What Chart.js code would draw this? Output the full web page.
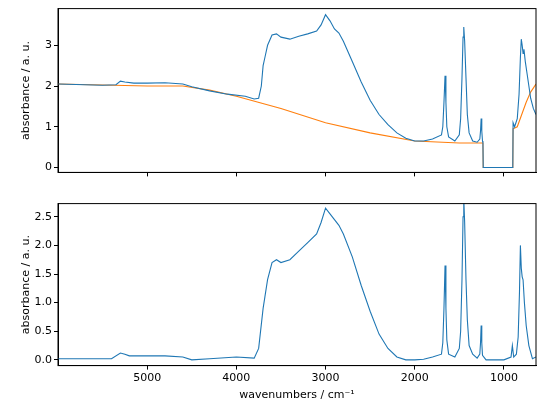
<!DOCTYPE html>
<html><head><meta charset="utf-8">
<script src="https://cdn.jsdelivr.net/npm/chart.js@4/dist/chart.umd.min.js"></script>
<style>
body{margin:0;background:#fff;width:544px;height:418px;position:relative;overflow:hidden}
.c{position:absolute;left:0}
</style></head><body>
<div class="c" style="top:0;width:544px;height:181px"><canvas id="top"></canvas></div>
<div class="c" style="top:195px;width:544px;height:209px"><canvas id="bot"></canvas></div>
<script>
// spectra (wavenumber, absorbance)
const sampleWn = [6000,5500,5350,5300,5250,5150,5000,4800,4600,4500,4300,4100,3900,3800,3750,3720,3700,3680,3650,3600,3550,3500,3400,3300,3200,3100,3050,3000,2950,2900,2850,2800,2700,2600,2500,2400,2300,2200,2100,2000,1900,1800,1700,1685,1672,1660,1650,1640,1620,1550,1500,1485,1470,1458,1450,1440,1425,1410,1390,1350,1300,1270,1262,1255,1248,1240,1235,1232,900,897,880,850,830,815,805,795,785,775,760,740,720,700,670,640];
const sampleAbs = [2.05,2.02,2.03,2.12,2.1,2.07,2.07,2.08,2.05,1.98,1.88,1.8,1.75,1.68,1.7,2.0,2.5,2.7,3.0,3.25,3.28,3.2,3.15,3.22,3.28,3.35,3.5,3.75,3.6,3.4,3.3,3.1,2.6,2.1,1.65,1.3,1.05,0.85,0.72,0.65,0.65,0.7,0.8,1.0,1.6,2.25,1.6,1.0,0.75,0.65,0.8,1.2,2.2,3.2,3.45,3.1,2.2,1.3,0.85,0.65,0.62,0.7,0.9,1.2,0.9,0.65,0.6,0,0,1.1,1.0,1.2,1.8,2.7,3.15,3.0,2.8,2.9,2.6,2.3,2.0,1.7,1.45,1.3];
const baseWn = [6000,5000,4600,4300,4000,3500,3000,2500,2000,1500,1235,1232,900,897,850,800,750,700,640];
const baseAbs = [2.05,2.0,2.0,1.9,1.75,1.45,1.1,0.85,0.65,0.6,0.6,0,0,0.95,1.0,1.3,1.6,1.85,2.05];
const corrWn = [6000,5400,5300,5250,5200,4800,4600,4500,4300,4000,3800,3750,3700,3680,3650,3600,3550,3500,3400,3300,3200,3100,3050,3000,2950,2900,2850,2800,2700,2600,2500,2400,2300,2200,2100,2000,1900,1800,1700,1685,1672,1660,1650,1640,1620,1550,1500,1485,1470,1458,1450,1440,1425,1410,1390,1350,1300,1270,1262,1255,1248,1240,1200,1000,920,905,890,860,840,825,815,805,795,785,770,750,720,680,640];
const corrAbs = [0.02,0.02,0.12,0.1,0.07,0.07,0.05,0.0,0.02,0.05,0.03,0.2,0.9,1.1,1.4,1.7,1.75,1.7,1.75,1.9,2.05,2.2,2.4,2.65,2.55,2.45,2.35,2.2,1.8,1.3,0.85,0.45,0.2,0.05,0.0,0.0,0.01,0.05,0.1,0.3,0.9,1.65,0.9,0.35,0.1,0.05,0.2,0.5,1.4,2.5,2.82,2.4,1.4,0.7,0.25,0.1,0.03,0.1,0.3,0.6,0.3,0.08,0.0,0.0,0.05,0.25,0.05,0.1,0.4,1.2,2.0,1.6,1.45,1.4,1.0,0.6,0.25,0.02,0.05];
const xTicks = [1000,2000,3000,4000,5000];
const topTicks = [0,1,2,3];
const botTicks = [0,0.5,1,1.5,2,2.5];

const pts = (xs, ys) => xs.map((x, i) => ({ x, y: ys[i] }));
const font = { family: "DejaVu Sans", size: 11 };
const frame = {
  id: "frame",
  afterDraw(c) {
    const a = c.chartArea, g = c.ctx;
    g.save(); g.strokeStyle = "#000"; g.lineWidth = 1;
    g.strokeRect(a.left, a.top, a.right - a.left, a.bottom - a.top);
    g.restore();
  },
};
function line(data, color) {
  return { data, borderColor: color, borderWidth: 1.1, pointRadius: 0, tension: 0 };
}
function makeChart(id, datasets, ymin, ymax, yTicks, showX) {
  new Chart(document.getElementById(id), {
    type: "line",
    data: { datasets },
    plugins: [frame],
    options: {
      animation: false, responsive: true, maintainAspectRatio: false,
      layout: { padding: { top: 8, right: 8, left: 18 } },
      plugins: { legend: { display: false }, tooltip: { enabled: false } },
      scales: {
        x: {
          type: "linear", reverse: true, min: 640, max: 6000,
          afterBuildTicks: (s) => { s.ticks = xTicks.map((v) => ({ value: v })); },
          grid: { display: true, drawOnChartArea: false, drawTicks: true, tickLength: 4, tickColor: "#000" },
          border: { color: "#000" },
          ticks: { display: showX, color: "#000", font, maxRotation: 0, padding: 2, callback: (v) => String(v) },
          title: { display: showX, text: "wavenumbers / cm\u207B\u00B9", color: "#000", font, padding: 2 },
        },
        y: {
          min: ymin, max: ymax,
          afterBuildTicks: (s) => { s.ticks = yTicks.map((v) => ({ value: v })); },
          afterFit: (s) => { s.width = 40; },
          grid: { display: true, drawOnChartArea: false, drawTicks: true, tickLength: 4, tickColor: "#000" },
          border: { color: "#000" },
          ticks: { color: "#000", font, padding: 2, callback: (v) => (ymax < 3 ? v.toFixed(1) : String(v)) },
          title: { display: true, text: "absorbance / a. u.", color: "#000", font, padding: 2 },
        },
      },
    },
  });
}
makeChart("top", [line(pts(sampleWn, sampleAbs), "#1f77b4"), line(pts(baseWn, baseAbs), "#ff7f0e")], -0.12, 3.9, topTicks, false);
makeChart("bot", [line(pts(corrWn, corrAbs), "#1f77b4")], -0.1, 2.73, botTicks, true);
</script>
</body></html>
